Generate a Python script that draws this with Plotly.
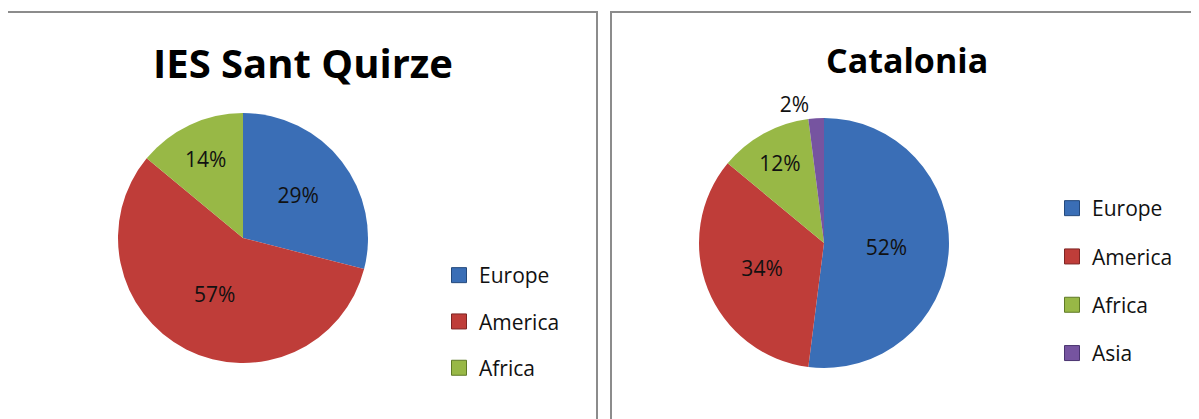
import plotly.graph_objects as go

W, H = 1199, 419
OFF = 8  # page offset of the plot inside the browser window

left_labels = ["Europe", "America", "Africa"]
left_values = [29, 57, 14]
right_labels = ["Europe", "America", "Africa", "Asia"]
right_values = [52, 34, 12, 2]

colors = {"Europe": "#3A6EB6", "America": "#BF3D39", "Africa": "#98B846", "Asia": "#7654A0"}
edge = {"Europe": "#24497c", "America": "#7d2523", "Africa": "#5f7a26", "Asia": "#4a3470"}

def px(x):
    return (x - OFF) / W

def py(y):
    return 1 - (y - OFF) / H

fig = go.Figure()

fig.add_trace(go.Pie(
    labels=left_labels, values=left_values, sort=False, direction="clockwise", rotation=0,
    marker=dict(colors=[colors[l] for l in left_labels], line=dict(width=0)),
    texttemplate="%{percent:.0%}", textposition="inside", insidetextorientation="horizontal",
    textfont=dict(family="Open Sans", size=21, color="#111111"),
    domain=dict(x=[px(118), px(368)], y=[py(363), py(113)]),
    showlegend=False, hoverinfo="label+percent",
))
fig.add_trace(go.Pie(
    labels=[l + "\u200b" for l in right_labels], values=right_values, sort=False,
    direction="clockwise", rotation=0,
    marker=dict(colors=[colors[l] for l in right_labels], line=dict(width=0)),
    texttemplate="%{percent:.0%}",
    textposition=["inside", "inside", "inside", "outside"], insidetextorientation="horizontal",
    textfont=dict(family="Open Sans", size=21, color="#111111"),
    domain=dict(x=[px(699), px(949)], y=[py(368), py(118)]),
    showlegend=False, hoverinfo="label+percent",
))

# legend entries (one per category, per panel)
for lab in left_labels:
    fig.add_trace(go.Scatter(
        x=[None], y=[None], mode="markers", name=lab, legend="legend", legendgroup="L" + lab,
        marker=dict(symbol="square", size=15, color=colors[lab], line=dict(color=edge[lab], width=1)),
    ))
for lab in right_labels:
    fig.add_trace(go.Scatter(
        x=[None], y=[None], mode="markers", name=lab, legend="legend2", legendgroup="R" + lab,
        marker=dict(symbol="square", size=15, color=colors[lab], line=dict(color=edge[lab], width=1)),
    ))

fig.update_layout(
    width=W, height=H, margin=dict(l=0, r=0, t=0, b=0),
    paper_bgcolor="white", plot_bgcolor="white",
    font=dict(family="Open Sans", color="#111111"),
    xaxis=dict(visible=False), yaxis=dict(visible=False),
    legend=dict(x=px(439), y=py(255), xanchor="left", yanchor="top", tracegroupgap=16,
                itemwidth=30, font=dict(size=21, family="Open Sans"), bgcolor="rgba(0,0,0,0)"),
    legend2=dict(x=px(1052), y=py(188), xanchor="left", yanchor="top", tracegroupgap=18,
                 itemwidth=30, font=dict(size=21, family="Open Sans"), bgcolor="rgba(0,0,0,0)"),
    shapes=[
        dict(type="rect", xref="paper", yref="paper", x0=px(7), x1=px(597), y0=py(440), y1=py(12),
             line=dict(color="#8c8c8c", width=2)),
        dict(type="rect", xref="paper", yref="paper", x0=px(611), x1=px(1230), y0=py(440), y1=py(12),
             line=dict(color="#8c8c8c", width=2)),
    ],
    annotations=[
        dict(text="<b>IES Sant Quirze</b>", x=px(303), y=py(63), xref="paper", yref="paper",
             xanchor="center", yanchor="middle", showarrow=False,
             font=dict(size=40, family="Open Sans", color="#000000")),
        dict(text="<b>Catalonia</b>", x=px(907), y=py(60), xref="paper", yref="paper",
             xanchor="center", yanchor="middle", showarrow=False,
             font=dict(size=34, family="Open Sans", color="#000000")),
    ],
)

fig.write_html("out.html")
